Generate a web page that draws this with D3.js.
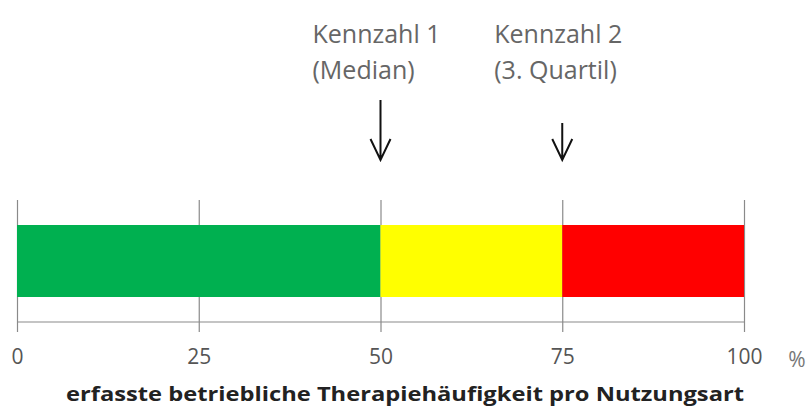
<!DOCTYPE html>
<html><head><meta charset="utf-8">
<script src="https://cdn.jsdelivr.net/npm/d3@7"></script>
<style>body{margin:0;background:#fff}svg{display:block}</style>
</head><body>
<svg id="c" width="811" height="406"></svg>
<script>
const segments = ["Grün", "Gelb", "Rot"];
const segStart = [0, 50, 75];
const segEnd = [50, 75, 100];
const segColors = ["#00B050", "#FFFF00", "#FF0000"];
const tickValues = [0, 25, 50, 75, 100];
const markerValues = [50, 75];
const markerLine1 = ["Kennzahl 1", "Kennzahl 2"];
const markerLine2 = ["(Median)", "(3. Quartil)"];
const unitLabel = "%";
const axisTitle = "erfasste betriebliche Therapiehäufigkeit pro Nutzungsart";

const svg = d3.select("#c");
const x = d3.scaleLinear().domain([0, 100]).range([17, 744]);
const axisY = 322, gridTop = 200, barTop = 225, barBottom = 297;

// bars
svg.selectAll("rect.seg").data(segments).join("rect")
  .attr("class", "seg")
  .attr("x", (d, i) => x(segStart[i]))
  .attr("width", (d, i) => x(segEnd[i]) - x(segStart[i]))
  .attr("y", barTop).attr("height", barBottom - barTop)
  .attr("fill", (d, i) => segColors[i]);

// axis
const ax = svg.append("g").attr("transform", `translate(0,${axisY})`)
  .call(d3.axisBottom(x).tickValues(tickValues).tickSize(10).tickFormat(d3.format("d")));
ax.select(".domain").attr("stroke", "#8a8a8a").attr("stroke-width", 1.2).attr("d", `M${x(0)},0H${x(100)}`);
ax.selectAll(".tick line").attr("stroke", "#8a8a8a").attr("stroke-width", 1.2)
  .attr("y1", gridTop - axisY).attr("y2", 10);
ax.selectAll(".tick text").attr("y", 42).attr("dy", 0)
  .attr("font-family", "Open Sans").attr("font-size", 21).attr("fill", "#555");
ax.lower();
svg.selectAll("rect.seg").raise();

svg.append("text").attr("x", 797).attr("y", axisY + 45).attr("text-anchor", "middle")
  .attr("font-family", "Open Sans").attr("font-size", 21).attr("fill", "#777").text(unitLabel);

svg.append("text").attr("x", 405).attr("y", 401).attr("text-anchor", "middle")
  .attr("font-family", "Open Sans").attr("font-weight", "bold").attr("font-size", 20)
  .attr("fill", "#222").attr("textLength", 678).attr("lengthAdjust", "spacingAndGlyphs").text(axisTitle);

// markers
const arrowTop = [100, 123];
const mg = svg.selectAll("g.marker").data(markerValues).join("g").attr("class", "marker");
mg.append("text").attr("x", d => x(d) - 68).attr("y", 43)
  .attr("font-family", "Open Sans").attr("font-size", 25).attr("fill", "#666")
  .text((d, i) => markerLine1[i]);
mg.append("text").attr("x", d => x(d) - 68).attr("y", 79)
  .attr("font-family", "Open Sans").attr("font-size", 25).attr("fill", "#666")
  .text((d, i) => markerLine2[i]);
mg.append("path")
  .attr("d", (d, i) => `M${x(d)},${arrowTop[i]}V160M${x(d) - 10},139L${x(d)},160L${x(d) + 10},139`)
  .attr("fill", "none").attr("stroke", "#111").attr("stroke-width", 2);
</script>
</body></html>
